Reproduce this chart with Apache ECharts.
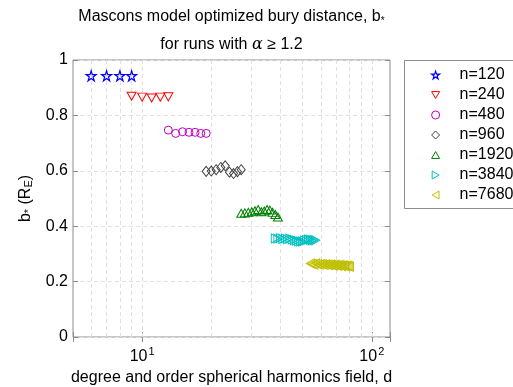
<!DOCTYPE html>
<html>
<head>
<meta charset="utf-8">
<script src="https://cdn.jsdelivr.net/npm/echarts@6/dist/echarts.min.js"></script>
<style>html,body{margin:0;padding:0;background:#fff;}#c{width:513px;height:387px;}</style>
</head>
<body>
<div id="c"></div>
<script>
// ---- data ----
const seriesNames = ['n=120','n=240','n=480','n=960','n=1920','n=3840','n=7680'];
const d120 = [6,7,8,9];
const b120 = [0.943,0.943,0.943,0.943];
const d240 = [9,10,11,12,13];
const b240 = [0.869,0.866,0.863,0.866,0.867];
const d480 = [13,14,15,16,17,18,19];
const b480 = [0.747,0.735,0.741,0.739,0.739,0.735,0.735];
const d960 = [19,20,21,22,23,24,25,26,27];
const b960 = [0.598,0.599,0.604,0.612,0.618,0.595,0.590,0.597,0.604];
const d1920 = [27,28,29,30,31,32,33,34,35,36,37,38,39];
const b1920 = [0.447,0.448,0.450,0.452,0.456,0.460,0.452,0.455,0.460,0.458,0.450,0.442,0.433];
const d3840 = [38,39,40,41,42,43,44,45,46,47,48,49,50,51,52,53,54,55,56,57];
const b3840 = [0.356,0.355,0.357,0.354,0.356,0.353,0.355,0.352,0.350,0.348,0.346,0.345,0.345,0.348,0.350,0.352,0.351,0.349,0.350,0.349];
const d7680 = [54,55,56,57,58,59,60,61,62,63,64,65,66,67,68,69,70,71,72,73,74,75,76,77,78,79,80];
const b7680 = [0.265,0.264,0.262,0.266,0.263,0.261,0.264,0.262,0.260,0.263,0.261,0.259,0.262,0.260,0.258,0.261,0.259,0.257,0.260,0.258,0.256,0.259,0.257,0.255,0.258,0.256,0.254];
const xGridValues = [6,7,8,9,10,20,30,40,50,60,70,80,90,100];

// ---- styles ----
const FONT = "'Liberation Sans', Arial, Helvetica, sans-serif";
const STAR = 'path://M0,-100 L22,-31 L95,-31 L36,12 L59,81 L0,38 L-59,81 L-36,12 L-95,-31 L-22,-31 Z';
const TRI_UP = 'path://M50,0 L100,86 L0,86 Z';
const TRI_DOWN = 'path://M0,0 L100,0 L50,86 Z';
const TRI_RIGHT = 'path://M0,0 L86,50 L0,100 Z';
const TRI_LEFT = 'path://M86,0 L0,50 L86,100 Z';
const styles = [
  {color:'#0000ff', symbol:STAR, size:[10,10], bw:1.2},
  {color:'#ff0000', symbol:TRI_DOWN, size:[9,8], bw:1},
  {color:'#bf00bf', symbol:'circle', size:[8,8], bw:1},
  {color:'#404040', symbol:'diamond', size:[8,10], bw:1},
  {color:'#008000', symbol:TRI_UP, size:[9,8], bw:1},
  {color:'#00bfbf', symbol:TRI_RIGHT, size:[8,9], bw:1},
  {color:'#bfbf00', symbol:TRI_LEFT, size:[8,9], bw:1}
];
const ds = [d120,d240,d480,d960,d1920,d3840,d7680];
const bs = [b120,b240,b480,b960,b1920,b3840,b7680];

const series = seriesNames.map((name,i)=>({
  name: name,
  type: 'scatter',
  symbol: styles[i].symbol,
  symbolSize: styles[i].size,
  itemStyle: {color:'rgba(0,0,0,0)', borderColor: styles[i].color, borderWidth: styles[i].bw, opacity:1},
  emphasis: {disabled:true},
  data: ds[i].map((d,k)=>[d, bs[i][k]]),
  z: 5
}));
series.unshift({
  type:'line', data:[], silent:true, z:1,
  markLine:{
    silent:true, symbol:['none','none'], animation:false,
    label:{show:false},
    lineStyle:{color:'#e0e0e0', type:[4,3], width:1},
    data: xGridValues.map(v=>({xAxis:v}))
  }
});

const legendData = seriesNames.map((name,i)=>({
  name: name,
  icon: styles[i].symbol,
  itemStyle: {color:'rgba(0,0,0,0)', borderColor: styles[i].color, borderWidth: styles[i].bw}
}));

function isDecade(v){ const l=Math.log10(v); return Math.abs(l-Math.round(l))<1e-6; }

const chart = echarts.init(document.getElementById('c'), null, {renderer:'canvas'});
chart.setOption({
  animation:false,
  backgroundColor:'#fff',
  textStyle:{fontFamily:FONT},
  grid:{left:73, right:123, top:60, bottom:50, show:true, borderColor:'#8c8c8c', borderWidth:1, backgroundColor:'transparent', containLabel:false, outerBoundsMode:'none'},
  graphic:[
    {type:'rect', shape:{x:404.5,y:60.5,width:130,height:148}, style:{fill:'#fff', stroke:'#8c8c8c', lineWidth:1}, z:0},
    {type:'text', x:231.5, y:17, style:{text:'Mascons model optimized bury distance, b{sub|*}', fontFamily:FONT, fontSize:16, fill:'#000', align:'center', verticalAlign:'middle',
      rich:{sub:{fontSize:10, fontFamily:FONT, fill:'#000', verticalAlign:'bottom', padding:[8,0,0,0]}}}},
    {type:'text', x:231.5, y:45, style:{text:'for runs with {it|α} ≥ 1.2', fontFamily:FONT, fontSize:16, fill:'#000', align:'center', verticalAlign:'middle',
      rich:{it:{fontSize:16, fontStyle:'italic', fontFamily:"'DejaVu Serif', 'Liberation Serif', serif", fill:'#000'}}}}
  ],
  legend:{
    data: legendData,
    orient:'vertical', left:426, top:62,
    itemWidth:8, itemHeight:8, itemGap:4,
    symbolKeepAspect:true,
    textStyle:{fontFamily:FONT, fontSize:16, color:'#000', lineHeight:16, padding:[0,0,0,15]},
    selectedMode:false
  },
  xAxis:[
    {type:'log', logBase:10, min:5, max:120,
     name:'degree and order spherical harmonics field, d', nameLocation:'middle', nameGap:24,
     nameTextStyle:{fontFamily:FONT, fontSize:16, color:'#000'},
     axisLine:{show:false}, splitLine:{show:false},
     axisTick:{show:true, inside:true, length:5, lineStyle:{color:'#8c8c8c'}},
     axisLabel:{show:true, margin:9, color:'#000', fontFamily:FONT, fontSize:16,
       formatter:function(v){ if(!isDecade(v)) return ''; return '10{sup|'+Math.round(Math.log10(v))+'}'; },
       rich:{sup:{fontSize:11, fontFamily:FONT, color:'#000', verticalAlign:'top', padding:[0,0,10,1]}}}
    },
    {type:'log', logBase:10, min:5, max:120, position:'top',
     axisLine:{show:false}, splitLine:{show:false}, axisLabel:{show:false},
     axisTick:{show:true, inside:true, length:5, lineStyle:{color:'#8c8c8c'}}}
  ],
  yAxis:[
    {type:'value', min:0, max:1, interval:0.2,
     name:'b{sub|*} (R{sub|E})', nameLocation:'middle', nameGap:38, nameRotate:90,
     nameTextStyle:{fontFamily:FONT, fontSize:16, color:'#000',
       rich:{sub:{fontSize:11, fontFamily:FONT, color:'#000', verticalAlign:'bottom', padding:[7,0,0,0]}}},
     axisLine:{show:false},
     axisTick:{show:true, inside:true, length:5, lineStyle:{color:'#8c8c8c'}},
     axisLabel:{color:'#000', fontFamily:FONT, fontSize:16, margin:5,
       formatter:function(v){ return String(Math.round(v*10)/10); }},
     splitLine:{show:true, lineStyle:{color:'#e0e0e0', type:[4,3], width:1}}
    },
    {type:'value', min:0, max:1, interval:0.2, position:'right',
     axisLine:{show:false}, axisLabel:{show:false}, splitLine:{show:false},
     axisTick:{show:true, inside:true, length:5, lineStyle:{color:'#8c8c8c'}}}
  ],
  series: series
});
</script>
</body>
</html>
